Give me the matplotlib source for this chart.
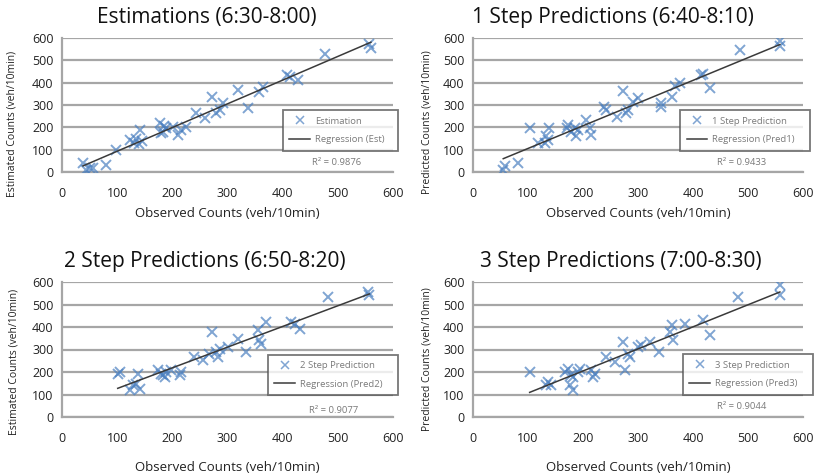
import numpy as np
import matplotlib
matplotlib.use("Agg")
import matplotlib.pyplot as plt
from matplotlib.lines import Line2D

plt.rcParams['font.family'] = ['Open Sans', 'DejaVu Sans']

# ---------------- data ----------------
est_obs = [38, 50, 43, 56, 79, 98, 123, 130, 135, 140, 145, 141, 177, 183, 189, 185, 180,
           201, 210, 216, 225, 243, 259, 271, 280, 286, 292, 319, 337, 358, 364, 407, 413,
           428, 477, 557, 560]
est_val = [40, 18, 10, 18, 30, 100, 144, 130, 150, 125, 140, 189, 218, 181, 196, 205, 175,
           203, 166, 189, 203, 263, 241, 337, 263, 278, 308, 367, 285, 360, 382, 434, 427,
           412, 530, 575, 555]

p1_obs = [55, 58, 82, 103, 118, 130, 136, 133, 139, 170, 173, 179, 185, 188, 191, 206,
          212, 215, 239, 242, 261, 273, 279, 282, 291, 300, 342, 342, 361, 367, 376, 415,
          418, 430, 485, 558, 558]
p1_val = [10, 25, 40, 196, 129, 129, 144, 159, 196, 196, 211, 181, 196, 159, 189, 233,
          196, 166, 293, 278, 248, 364, 263, 278, 315, 330, 308, 293, 337, 385, 397, 434,
          441, 374, 545, 562, 585]

p2_obs = [101, 105, 123, 129, 135, 141, 138, 174, 180, 183, 189, 186, 198, 213, 216, 240,
          255, 267, 271, 280, 283, 286, 301, 319, 334, 355, 358, 361, 370, 416, 422, 431,
          482, 554, 557]
p2_val = [193, 200, 119, 141, 148, 126, 193, 207, 193, 185, 200, 178, 207, 185, 200, 267,
          252, 281, 378, 289, 267, 304, 311, 348, 289, 385, 341, 326, 422, 422, 415, 393,
          533, 556, 541]

p3_obs = [103, 136, 142, 133, 173, 167, 179, 176, 182, 191, 194, 182, 215, 218, 221, 242,
          258, 273, 276, 282, 285, 300, 306, 321, 339, 358, 364, 361, 385, 418, 430, 482,
          558, 558]
p3_val = [200, 156, 141, 141, 215, 200, 185, 141, 178, 200, 215, 119, 207, 178, 193, 267,
          244, 333, 207, 281, 267, 311, 319, 333, 289, 378, 341, 407, 415, 430, 363, 533,
          585, 541]

titles = ["Estimations (6:30-8:00)", "1 Step Predictions (6:40-8:10)",
          "2 Step Predictions (6:50-8:20)", "3 Step Predictions (7:00-8:30)"]
ylabels = ["Estimated Counts (veh/10min)", "Predicted Counts (veh/10min)",
           "Estimated Counts (veh/10min)", "Predicted Counts (veh/10min)"]
xlabel = "Observed Counts (veh/10min)"
series_names = ["Estimation", "1 Step Prediction", "2 Step Prediction", "3 Step Prediction"]
reg_names = ["Regression (Est)", "Regression (Pred1)", "Regression (Pred2)", "Regression (Pred3)"]
r2_texts = ["R² = 0.9876", "R² = 0.9433", "R² = 0.9077", "R² = 0.9044"]
ticks = [0, 100, 200, 300, 400, 500, 600]

obs_all = [est_obs, p1_obs, p2_obs, p3_obs]
val_all = [est_val, p1_val, p2_val, p3_val]

# ---------------- layout ----------------
W, H = 815, 475
fig = plt.figure(figsize=(W / 100, H / 100), dpi=100)

# axes boxes in pixels: (left, top, right, bottom)
boxes = [(62, 38, 393, 172), (473, 38, 803, 172),
         (62, 282, 393, 417), (473, 282, 803, 417)]
legend_boxes = [(0.667, 0.143, 0.348, 0.335), (0.627, 0.136, 0.393, 0.349),
                (0.622, 0.148, 0.393, 0.326), (0.636, 0.163, 0.394, 0.304)]
r2_pos = [(0.83, 0.07), (0.815, 0.07), (0.82, 0.05), (0.815, 0.08)]
xlabelpads = [5, 5, 11, 11]
title_x = [0.438, 0.424, 0.432, 0.448]
ylabel_xy = [(-0.133, 0.36), (-0.124, 0.37), (-0.127, 0.41), (-0.124, 0.43)]

blue = '#4a7fc0'
grid_c = '#a6a6a6'

for i in range(4):
    l, t, r, b = boxes[i]
    ax = fig.add_axes([l / W, 1 - b / H, (r - l) / W, (b - t) / H])
    x = np.array(obs_all[i], dtype=float)
    y = np.array(val_all[i], dtype=float)
    ax.plot(x, y, linestyle='none', marker='x', markersize=7, mew=1.4,
            color=blue, alpha=0.7, zorder=3)
    k, c0 = np.polyfit(x, y, 1)
    xs = np.array([x.min(), x.max()])
    ax.plot(xs, k * xs + c0, color='#3a3a3a', lw=1.1, zorder=4)

    ax.set_xlim(0, 600)
    ax.set_ylim(0, 600)
    ax.set_xticks(ticks)
    ax.set_yticks(ticks)
    ax.tick_params(length=0, labelsize=9, colors='#222222')
    ax.tick_params(axis='x', pad=11)
    ax.tick_params(axis='y', pad=6)
    ax.yaxis.grid(True, color=grid_c, lw=1.6)
    ax.set_axisbelow(True)
    for s in ['top', 'right']:
        ax.spines[s].set_visible(False)
    for s in ['left', 'bottom']:
        ax.spines[s].set_color(grid_c)
        ax.spines[s].set_linewidth(1.6)

    ax.set_title(titles[i], fontsize=15, pad=11, color='#111111', x=title_x[i])
    ax.set_xlabel(xlabel, fontsize=9.5, labelpad=xlabelpads[i], color='#222222')
    ax.set_ylabel(ylabels[i], fontsize=7.5, color='#222222')
    ax.yaxis.set_label_coords(*ylabel_xy[i])

    handles = [Line2D([], [], linestyle='none', marker='x', markersize=6, mew=1.1,
                      color=blue, alpha=0.7),
               Line2D([], [], color='#3a3a3a', lw=1.1)]
    leg = ax.legend(handles, [series_names[i], reg_names[i]],
                    loc='center', bbox_to_anchor=legend_boxes[i], mode='expand',
                    fontsize=6.8, frameon=True, fancybox=False, shadow=False,
                    borderaxespad=0, handlelength=2.2, labelspacing=1.0,
                    borderpad=0.7, handletextpad=0.5)
    leg.get_frame().set_edgecolor('#555555')
    leg.get_frame().set_linewidth(1.3)
    for txt in leg.get_texts():
        txt.set_color('#7a7a7a')
    ax.text(r2_pos[i][0], r2_pos[i][1], r2_texts[i], transform=ax.transAxes,
            fontsize=6.8, color='#7a7a7a', ha='center', va='center')

fig.savefig('out.png', dpi=100)
